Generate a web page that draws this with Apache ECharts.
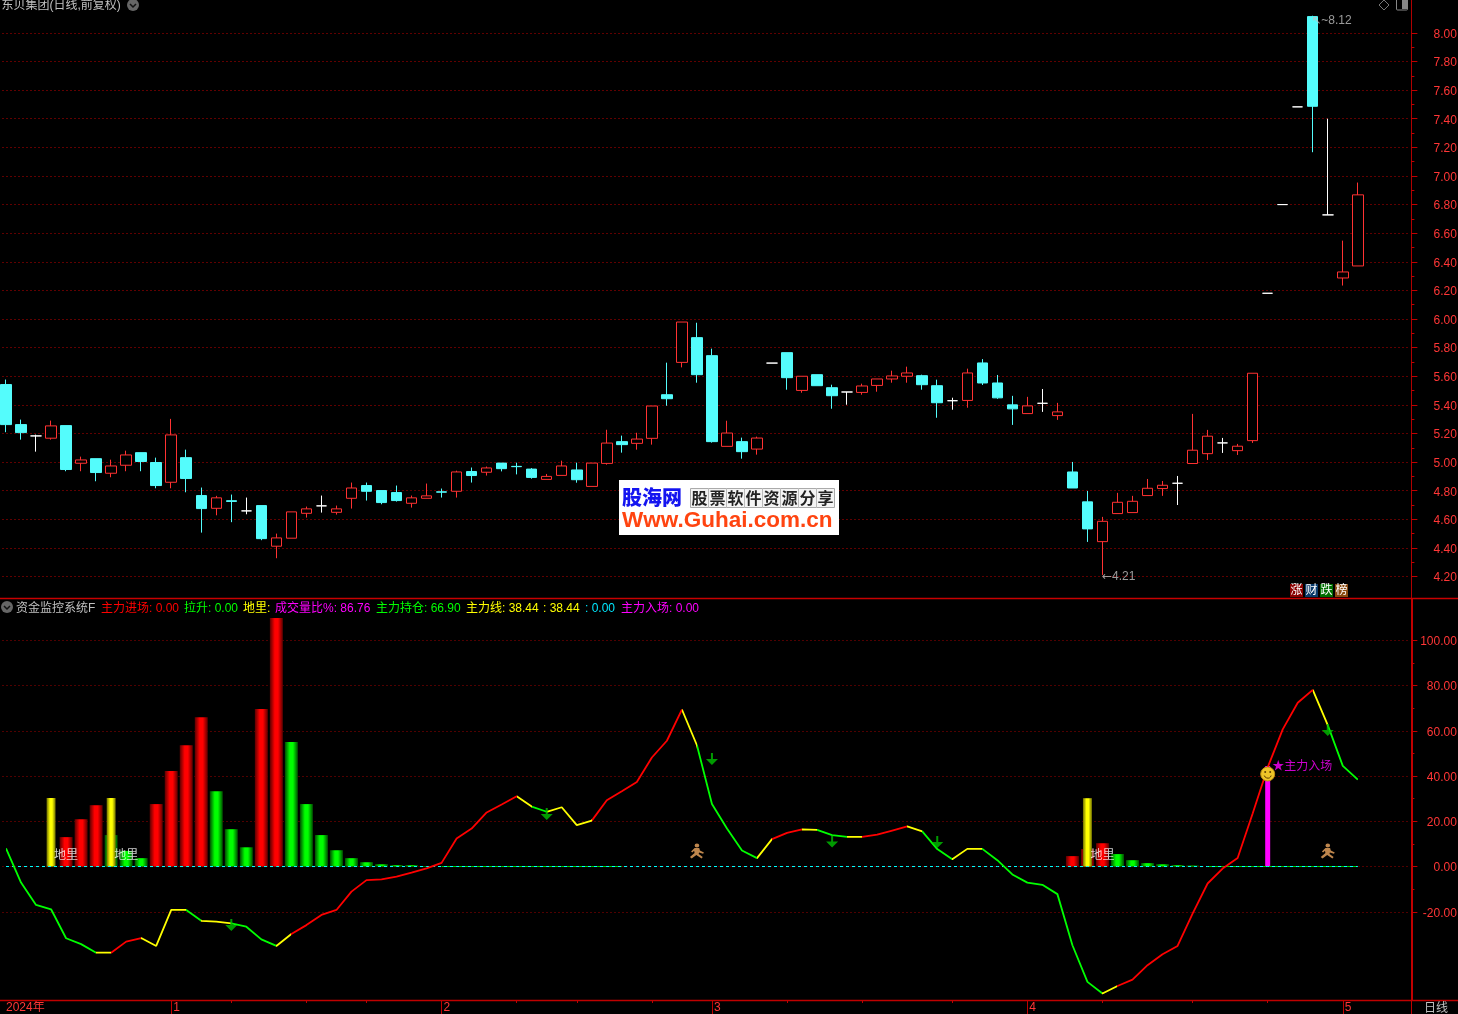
<!DOCTYPE html>
<html><head><meta charset="utf-8">
<style>html,body{margin:0;padding:0;background:#000;overflow:hidden}#c{width:1458px;height:1014px}</style>
<script src="https://cdn.jsdelivr.net/npm/echarts@6/dist/echarts.min.js"></script>
</head><body><div id="c"></div>
<script>
// ---------- data ----------
const openPrice=[5.542,5.262,5.183,5.167,5.255,4.992,5.024,4.922,4.978,5.066,4.997,4.859,5.031,4.766,4.677,4.73,4.659,4.696,4.412,4.468,4.642,4.694,4.649,4.747,4.836,4.801,4.787,4.712,4.747,4.792,4.796,4.934,4.929,4.993,4.97,4.951,4.879,4.907,4.945,4.83,4.991,5.143,5.131,5.166,5.471,5.697,5.87,5.744,5.11,5.143,5.091,5.692,5.765,5.501,5.611,5.52,5.49,5.487,5.536,5.581,5.6,5.604,5.534,5.429,5.431,5.693,5.553,5.4,5.339,5.411,5.325,4.931,4.722,4.444,4.64,4.647,4.766,4.815,4.852,4.99,5.059,5.134,5.08,5.15,6.18,6.8,7.483,8.114,6.728,6.287,6.371];
const closePrice=[5.262,5.206,5.183,5.253,4.948,5.015,4.927,4.973,5.05,5.004,4.836,5.19,4.885,4.675,4.75,4.725,4.659,4.465,4.47,4.652,4.673,4.694,4.673,4.819,4.796,4.717,4.731,4.75,4.764,4.79,4.931,4.906,4.959,4.954,4.968,4.893,4.9,4.973,4.877,4.993,5.133,5.122,5.161,5.392,5.443,5.979,5.611,5.143,5.203,5.073,5.168,5.692,5.59,5.6,5.534,5.464,5.49,5.532,5.581,5.602,5.623,5.541,5.415,5.429,5.623,5.553,5.449,5.372,5.393,5.411,5.351,4.819,4.533,4.586,4.719,4.726,4.817,4.838,4.852,5.083,5.181,5.134,5.111,5.621,6.18,6.8,7.483,7.487,6.728,6.329,6.868];
const lowPrice=[5.209,5.157,5.073,5.157,4.936,4.936,4.866,4.894,4.936,4.936,4.817,4.817,4.789,4.507,4.628,4.58,4.635,4.454,4.328,4.468,4.612,4.647,4.633,4.675,4.731,4.705,4.724,4.682,4.747,4.752,4.752,4.857,4.906,4.935,4.914,4.884,4.879,4.907,4.856,4.83,4.982,5.066,5.087,5.122,5.394,5.662,5.555,5.136,5.11,5.024,5.052,5.692,5.506,5.485,5.534,5.373,5.401,5.471,5.492,5.555,5.555,5.506,5.31,5.366,5.38,5.539,5.442,5.26,5.339,5.351,5.295,4.819,4.442,4.211,4.64,4.647,4.766,4.764,4.7,4.99,5.015,5.064,5.05,5.134,6.18,6.8,7.483,7.166,6.728,6.234,6.371];
const highPrice=[5.577,5.297,5.192,5.29,5.255,5.038,5.024,5.017,5.08,5.066,5.031,5.302,5.087,4.822,4.764,4.773,4.752,4.696,4.5,4.652,4.689,4.766,4.696,4.857,4.857,4.801,4.836,4.766,4.85,4.815,4.94,4.962,4.969,4.993,4.996,4.958,4.917,5.01,4.996,4.993,5.226,5.185,5.205,5.392,5.695,5.979,5.974,5.793,5.289,5.171,5.178,5.692,5.765,5.6,5.611,5.541,5.49,5.548,5.581,5.639,5.667,5.611,5.576,5.45,5.653,5.72,5.609,5.463,5.456,5.511,5.414,5.001,4.798,4.617,4.785,4.764,4.882,4.868,4.903,5.337,5.225,5.169,5.127,5.621,6.18,6.8,7.483,8.12,7.4,6.548,6.954];
const mainLine=[8,-7.1,-17,-18.9,-31.7,-34.3,-38.1,-38.1,-33.2,-31.6,-35.1,-19.2,-19.2,-24,-24.4,-25.1,-26.6,-32.2,-35.1,-29.8,-25.9,-21.4,-19.2,-11.1,-6,-5.7,-4.5,-2.7,-0.8,1.6,12.4,16.8,23.9,27.4,31.1,26.5,24.2,26.2,18.3,20.3,29.3,33.3,37.4,48.2,55.6,69.4,53.6,27.6,16.8,7.1,3.7,12.1,14.9,16.4,16.2,13.9,13.1,13.1,14.1,15.9,17.7,15.5,7.7,3.2,7.8,7.8,2.8,-3.5,-7.1,-8.1,-12.2,-34.8,-51,-56.1,-52.8,-50,-43.6,-38.8,-35.1,-20.8,-7.5,-0.9,3.8,23.4,43.8,60.6,72.4,78.1,62.5,44.5,38.44];
// state of each line segment i -> i+1: G falling, Y turning, R rising
const lineState='GGGGGGYRRYYYGYYGGGYRRRRRRRRRRRRRRRYGYYYRRRRRRYGGGGYRRYGGYRRRYGGYYGGGGGGGGYRRRRRRRRRRRRRYGG';
const redBarIndex=[4,5,6,10,11,12,13,17,18,71,72,73];
const redBarValue=[13,20.9,27.1,27.6,42.2,53.6,66,69.6,109.8,4.6,7.7,10.3];
const greenBarIndex=[7,8,9,14,15,16,19,20,21,22,23,24,25,26,27,28,74,75,76,77,78,79];
const greenBarValue=[13.9,6.9,3.7,33.3,16.5,8.5,55,27.6,13.9,7.2,3.7,1.9,1,0.6,0.6,0.2,5.5,2.8,1.5,1,0.6,0.4];
const yellowBarIndex=[3,7,72];
const yellowBarValue=[30.3,30.3,30.2];
const entryBarIndex=[84];
const entryBarValue=[44.4];
const arrowIndex=[15,36,47,55,62,88];
const arrowValue=[-25.9,23.2,47.5,11.1,10.8,60.3];
const runnerIndex=[46,88];
const runnerValue=[6.9,6.9];
const groundIndex=[4,8,73];
const groundValue=[5.0,5.0,5.0];
const pullUpIndex=[29,30,31,32,33,34,35,36,37,38,39,40,41,80,81,82,83,84,85,86,87,88,89,90];
const monthIndex=[0,11,29,47,68,89];
const monthNames=['2024年','1','2','3','4','5'];
const monthTicks=[11,29,47,68,89];
const subTicks=[15,20,24,34,38,43,52,57,63,73,79,84];
const priceTicks=[8,7.8,7.6,7.4,7.2,7,6.8,6.6,6.4,6.2,6,5.8,5.6,5.4,5.2,5,4.8,4.6,4.4,4.2];
const priceSubTicks=[7.9,7.7,7.5,7.3,7.1,6.9,6.7,6.5,6.3,6.1,5.9,5.7,5.5,5.3,5.1,4.9,4.7,4.5,4.3];
const indicatorTicks=[100,80,60,40,20,0,-20];
const indicatorSubTicks=[90,70,50,30,10,-10];
const stockTitle='东贝集团(日线,前复权)';
const indicatorLegend=[
 ['资金监控系统F','#c0c0c0',16],['主力进场: 0.00','#ff0000',101],['拉升: 0.00','#00ff00',184],['地里:','#ffff00',243],
 ['成交量比%: 86.76','#ff00ff',275],['主力持仓: 66.90','#00ff00',376],['主力线: 38.44','#ffff00',466],[': 38.44','#ffff00',543],
 [': 0.00','#00e8ff',585],['主力入场: 0.00','#ff00ff',621]];
const badgeTexts=[['涨','#8a0000'],['财','#0a3a6a'],['跌','#006e00'],['榜','#8a4a10']];
const logoChars='股票软件资源分享';

// ---------- build ----------
const N=openPrice.length, SLOTS=94;
const categories=Array.from({length:SLOTS},(_,i)=>{const k=monthIndex.indexOf(i);return k<0?'':monthNames[k];});
const dense=(idx,val)=>{const a=new Array(N).fill(null);idx.forEach((d,k)=>a[d]=val[k]);return a;};
const candles=openPrice.map((o,i)=>[o,closePrice[i],lowPrice[i],highPrice[i]]);
const grad=(edge,mid)=>new echarts.graphic.LinearGradient(0,0,1,0,[{offset:0,color:edge},{offset:.38,color:mid},{offset:.62,color:mid},{offset:1,color:edge}]);
const RED='#ff3232',CYAN='#54fcfc',AXIS='#c00000',TICKTXT='#ff3636',CJK='"Liberation Sans","Noto Sans CJK SC",sans-serif';
const stateColor={G:'#00ff00',Y:'#ffff00',R:'#ff0000'};
const pieces=[];
for(let i=0;i<lineState.length;i++){
  const c=stateColor[lineState[i]],last=pieces[pieces.length-1];
  if(last&&last.color===c){last.lte=i+1;}else{pieces.push({gt:i,lte:i+1,color:c});}
}
pieces[0].gte=0;delete pieces[0].gt;

const gridLeft=-1.5, bandPx=15.02;
const yAxisBase=(gridIndex,min,max)=>({type:'value',gridIndex,min,max,position:'right',offset:1,scale:true});
const makeX=(gridIndex,extra)=>Object.assign({type:'category',gridIndex,data:categories,boundaryGap:true,position:'bottom',
  axisLine:{show:false,onZero:false},axisTick:{show:false},axisLabel:{show:false},splitLine:{show:false}},extra||{});

const arrowPath='path://M5 0H7V6H12L6 12L0 6H5Z';
const runnerPath='path://M7 0a2 2 0 1 0 .01 0ZM5 4.5L9 4.5L9.6 7.2L13 9L12.3 10.4L8.8 9L8.5 10.5L12 13.5L11 15L6.5 11.6L2.5 15L1 13.6L5 9.5L4.6 7.4L3 9L2 8Z';

const extremeRich={a:{color:'#c0c0c0',fontSize:12,fontFamily:'"DejaVu Sans"'},b:{color:'#c0c0c0',fontSize:12,fontFamily:'"Liberation Sans"'}};
const series=[
 {type:'candlestick',name:'price',xAxisIndex:0,yAxisIndex:0,data:candles,barWidth:11,silent:true,
  itemStyle:{color:'#000',color0:CYAN,borderColor:RED,borderColor0:CYAN,borderColorDoji:'#fff',borderWidth:1}},
 {type:'scatter',name:'extremes',xAxisIndex:0,yAxisIndex:0,symbolSize:1,itemStyle:{color:'rgba(0,0,0,0)'},silent:true,z:5,
  data:[{value:[73,lowPrice[73]],label:{formatter:'{a|←}{b|'+lowPrice[73].toFixed(2)+'}',offset:[-1,2]}},
        {value:[87,highPrice[87]],label:{formatter:'{a|↖}{b|~'+highPrice[87].toFixed(2)+'}',offset:[-2,5]}}],
  label:{show:true,position:'right',distance:0,rich:extremeRich}},
 {type:'bar',name:'red',xAxisIndex:1,yAxisIndex:2,stack:'w',barWidth:13,data:dense(redBarIndex,redBarValue),itemStyle:{color:grad('#5c0000','#ff0000')},silent:true,z:2},
 {type:'bar',name:'green',xAxisIndex:1,yAxisIndex:2,stack:'w',barWidth:13,data:dense(greenBarIndex,greenBarValue),itemStyle:{color:grad('#004c00','#00ff00')},silent:true,z:2},
 {type:'bar',name:'yellow',xAxisIndex:2,yAxisIndex:2,barWidth:9,data:dense(yellowBarIndex,yellowBarValue),itemStyle:{color:grad('#6e6e00','#ffff00')},silent:true,z:3},
 {type:'bar',name:'entry',xAxisIndex:3,yAxisIndex:2,barWidth:5,data:dense(entryBarIndex,entryBarValue),itemStyle:{color:'#ff00ff'},silent:true,z:3},
 {type:'line',name:'pullUp',xAxisIndex:1,yAxisIndex:2,data:dense(pullUpIndex,pullUpIndex.map(()=>0)),symbol:'none',lineStyle:{color:'#00d000',width:1},silent:true,z:3,connectNulls:false},
 {type:'line',name:'zero',xAxisIndex:1,yAxisIndex:2,data:new Array(N).fill(0),symbol:'none',lineStyle:{color:'#00ffff',width:1,type:[3,3]},silent:true,z:4},
 {type:'line',name:'main',xAxisIndex:1,yAxisIndex:2,data:mainLine,symbol:'none',lineStyle:{width:1.8},silent:true,z:5},
 {type:'scatter',name:'arrows',xAxisIndex:1,yAxisIndex:2,data:arrowIndex.map((d,k)=>[d,arrowValue[k]]),symbol:arrowPath,symbolSize:[12,12],itemStyle:{color:'#00c000'},silent:true,z:6},
 {type:'scatter',name:'runner',xAxisIndex:1,yAxisIndex:2,data:runnerIndex.map((d,k)=>[d,runnerValue[k]]),symbol:runnerPath,symbolSize:[14,15],itemStyle:{color:'#eea860'},silent:true,z:6},
 {type:'scatter',name:'ground',xAxisIndex:1,yAxisIndex:2,data:groundIndex.map((d,k)=>[d,groundValue[k]]),symbolSize:1,itemStyle:{color:'rgba(0,0,0,0)'},silent:true,z:7,
  label:{show:true,position:'inside',formatter:'地里',color:'#fff',fontSize:12,fontFamily:CJK}},
 {type:'scatter',name:'entryText',xAxisIndex:1,yAxisIndex:2,data:[[84,entryBarValue[0]]],symbolSize:1,itemStyle:{color:'rgba(0,0,0,0)'},silent:true,z:7,
  label:{show:true,position:'right',distance:4,formatter:'★主力入场',color:'#ff00ff',fontSize:12,fontFamily:CJK,offset:[0,1]}},
 {type:'custom',name:'smile',xAxisIndex:1,yAxisIndex:2,data:[[84,40.9]],silent:true,z:8,clip:false,
  renderItem(params,api){
    const p=api.coord([api.value(0),api.value(1)]),x=p[0],y=p[1];
    return {type:'group',children:[
      {type:'circle',shape:{cx:x,cy:y,r:7},style:{fill:'#eec428',stroke:'#c09010',lineWidth:1}},
      {type:'circle',shape:{cx:x-2.5,cy:y-2,r:1},style:{fill:'#604000'}},
      {type:'circle',shape:{cx:x+2.5,cy:y-2,r:1},style:{fill:'#604000'}},
      {type:'arc',shape:{cx:x,cy:y+.5,r:3.6,startAngle:.3,endAngle:Math.PI-.3},style:{stroke:'#604000',fill:null,lineWidth:1}}
    ]};
  }}
];
const mainSeriesIndex=series.findIndex(s=>s.name==='main');

// ---------- chrome ----------
const gfx=[];
const line=(x1,y1,x2,y2,c,w)=>gfx.push({type:'line',silent:true,z:50,shape:{x1,y1,x2,y2},style:{stroke:c,lineWidth:w||1}});
const text=(x,y,t,c,o)=>gfx.push({type:'text',silent:true,z:60,x,y,style:Object.assign({text:t,fill:c,font:'12px '+CJK,textVerticalAlign:'middle'},o||{})});
line(0,598.5,1458,598.5,'#c80000',1.5);
line(0,1000.5,1458,1000.5,AXIS,1.5);
line(1411.5,1000,1411.5,1014,AXIS,1);
text(1.5,6,stockTitle,'#c0c0c0');
text(1424,1009,'日线','#c0c0c0');
const chevronBtn=(x,y)=>{
  gfx.push({type:'circle',silent:true,z:60,shape:{cx:x,cy:y,r:6},style:{fill:'#666'}});
  gfx.push({type:'polyline',silent:true,z:61,shape:{points:[[x-3,y-1],[x,y+2],[x+3,y-1]]},style:{stroke:'#111',fill:null,lineWidth:1.5}});
};
chevronBtn(133,5);chevronBtn(7,607);
indicatorLegend.forEach(l=>text(l[2],608.5,l[0],l[1]));
gfx.push({type:'polygon',silent:true,z:60,shape:{points:[[1384,0],[1389,5],[1384,10],[1379,5]]},style:{stroke:'#777',fill:null,lineWidth:1}});
gfx.push({type:'rect',silent:true,z:60,shape:{x:1396.5,y:-1,width:11,height:11,r:1},style:{stroke:'#888',fill:null,lineWidth:1}});
gfx.push({type:'rect',silent:true,z:60,shape:{x:1402,y:0,width:5,height:9},style:{fill:'#888'}});
badgeTexts.forEach((b,i)=>{
  const x=1290+15*i;
  gfx.push({type:'rect',silent:true,z:60,shape:{x,y:584,width:13,height:13},style:{fill:b[1]}});
  text(x+.5,591,b[0],'#fff');
});
// logo
gfx.push({type:'rect',silent:true,z:70,shape:{x:619,y:480,width:220,height:55},style:{fill:'#fff'}});
gfx.push({type:'text',silent:true,z:71,x:622,y:497,style:{text:'股海网',fill:'#1414f0',font:'900 20px "Noto Sans CJK SC"',textVerticalAlign:'middle'}});
gfx.push({type:'text',silent:true,z:71,x:622,y:521,style:{text:'Www.Guhai.com.cn',fill:'#ff4410',font:'bold 22.5px "Liberation Sans"',textVerticalAlign:'middle'}});
gfx.push({type:'rect',silent:true,z:71,shape:{x:690.5,y:488.5,width:144,height:19},style:{fill:'#f4f4f4',stroke:'#aaa',lineWidth:1}});
for(let i=0;i<logoChars.length;i++){
  if(i>0)gfx.push({type:'line',silent:true,z:71,shape:{x1:690.5+18*i,y1:488,x2:690.5+18*i,y2:508},style:{stroke:'#bbb',lineWidth:1}});
  gfx.push({type:'text',silent:true,z:72,x:690.5+18*i+1,y:498,style:{text:logoChars[i],fill:'#222',font:'bold 16px "Noto Sans CJK SC"',textVerticalAlign:'middle'}});
}

const dotted=c=>({show:true,lineStyle:{color:c,width:1,type:[1,3]}});
const labelFmt=v=>Number(v).toFixed(2);
const yLabel=vals=>({show:true,customValues:vals,align:'right',verticalAlign:'top',lineHeight:3,margin:45.5,color:TICKTXT,fontSize:12,fontFamily:CJK,formatter:labelFmt});

const option={
 backgroundColor:'#000',animation:false,
 tooltip:{show:false},
 grid:[
  {left:gridLeft,top:0,width:SLOTS*bandPx,height:598,containLabel:false,outerBoundsMode:'none'},
  {left:gridLeft,top:599,width:SLOTS*bandPx,height:401,containLabel:false,outerBoundsMode:'none'}
 ],
 xAxis:[
  makeX(0),
  makeX(1,{axisTick:{show:true,customValues:monthTicks,alignWithLabel:true,length:14,lineStyle:{color:AXIS,width:1}},
    axisLabel:{show:true,interval:0,margin:2,align:'left',hideOverlap:false,
      formatter:v=>v===''?'':(v==='2024年'?'{y|'+v+'}':'{m|'+v+'}'),
      rich:{y:{color:TICKTXT,fontSize:12,fontFamily:CJK},m:{color:TICKTXT,fontSize:12,fontFamily:CJK,padding:[0,0,0,2]}}}}),
  makeX(1,{axisTick:{show:true,customValues:subTicks,alignWithLabel:true,length:3,lineStyle:{color:AXIS,width:1}}}),
  makeX(1)
 ],
 yAxis:[
  Object.assign(yAxisBase(0,4.05,8.23),{
    axisLine:{show:true,onZero:false,lineStyle:{color:'#b00000',width:1}},
    axisTick:{show:true,customValues:priceTicks,length:6,lineStyle:{color:AXIS}},
    axisLabel:yLabel(priceTicks),
    splitLine:dotted('#c00000')}),
  Object.assign(yAxisBase(0,4.05,8.23),{
    axisLine:{show:false},axisTick:{show:true,customValues:priceSubTicks,length:3,lineStyle:{color:AXIS}},axisLabel:{show:false},splitLine:{show:false}}),
  Object.assign(yAxisBase(1,-59,118.25),{
    axisLine:{show:true,onZero:false,lineStyle:{color:AXIS,width:2}},
    axisTick:{show:true,customValues:indicatorTicks,length:6,lineStyle:{color:AXIS}},
    axisLabel:yLabel(indicatorTicks),
    splitLine:dotted('#a00000')}),
  Object.assign(yAxisBase(1,-59,118.25),{
    axisLine:{show:false},axisTick:{show:true,customValues:indicatorSubTicks,length:3,lineStyle:{color:AXIS}},axisLabel:{show:false},splitLine:{show:false}})
 ],
 visualMap:[{type:'piecewise',show:false,seriesIndex:mainSeriesIndex,dimension:0,pieces}],
 series,
 graphic:{elements:gfx}
};
echarts.init(document.getElementById('c'),null,{renderer:'canvas'}).setOption(option);
</script></body></html>
